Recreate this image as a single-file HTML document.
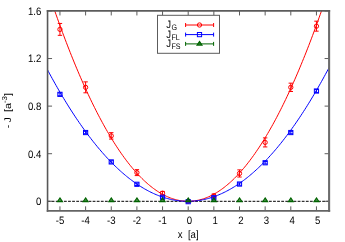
<!DOCTYPE html><html><head><meta charset="utf-8"><style>html,body{margin:0;padding:0;background:#fff}svg{display:block}text{font-family:"Liberation Sans",sans-serif;fill:#000;text-rendering:geometricPrecision}.tx{filter:grayscale(1)}</style></head><body>
<svg width="345" height="242" viewBox="0 0 345 242">
<rect width="345" height="242" fill="#fff"/>
<path d="M47.55 201.3H329.1" stroke="#000" stroke-width="1" stroke-dasharray="2.8 1.3" fill="none"/>
<path d="M59.95 210.85v-4.5M59.95 10.95v4.5M85.60 210.85v-4.5M85.60 10.95v4.5M111.25 210.85v-4.5M111.25 10.95v4.5M136.90 210.85v-4.5M136.90 10.95v4.5M162.55 210.85v-4.5M162.55 10.95v4.5M188.20 210.85v-4.5M188.20 10.95v4.5M213.85 210.85v-4.5M213.85 10.95v4.5M239.50 210.85v-4.5M239.50 10.95v4.5M265.15 210.85v-4.5M265.15 10.95v4.5M290.80 210.85v-4.5M290.80 10.95v4.5M316.45 210.85v-4.5M316.45 10.95v4.5M47.55 201.30h4.5M329.1 201.30h-4.5M47.55 153.71h4.5M329.1 153.71h-4.5M47.55 106.12h4.5M329.1 106.12h-4.5M47.55 58.54h4.5M329.1 58.54h-4.5M47.55 10.95h4.5M329.1 10.95h-4.5" stroke="#5c5c5c" stroke-width="1" fill="none"/>
<clipPath id="c"><rect x="47.55" y="10.95" width="281.55" height="199.9"/></clipPath>
<polyline clip-path="url(#c)" points="47.12,-11.52 48.41,-7.66 49.69,-3.84 50.97,-0.06 52.25,3.69 53.54,7.40 54.82,11.08 56.10,14.72 57.38,18.33 58.67,21.90 59.95,25.44 61.23,28.94 62.51,32.41 63.80,35.84 65.08,39.23 66.36,42.59 67.64,45.92 68.93,49.21 70.21,52.47 71.49,55.69 72.77,58.87 74.06,62.02 75.34,65.13 76.62,68.21 77.91,71.26 79.19,74.27 80.47,77.24 81.75,80.18 83.03,83.08 84.32,85.95 85.60,88.78 86.88,91.58 88.16,94.34 89.45,97.07 90.73,99.76 92.01,102.42 93.29,105.04 94.58,107.62 95.86,110.18 97.14,112.69 98.42,115.17 99.71,117.62 100.99,120.03 102.27,122.40 103.55,124.74 104.84,127.05 106.12,129.32 107.40,131.55 108.68,133.75 109.97,135.91 111.25,138.04 112.53,140.13 113.81,142.19 115.10,144.21 116.38,146.20 117.66,148.15 118.94,150.07 120.23,151.95 121.51,153.80 122.79,155.61 124.07,157.39 125.36,159.13 126.64,160.83 127.92,162.50 129.20,164.14 130.49,165.74 131.77,167.31 133.05,168.83 134.33,170.33 135.62,171.79 136.90,173.21 138.18,174.60 139.47,175.96 140.75,177.27 142.03,178.56 143.31,179.80 144.59,181.02 145.88,182.20 147.16,183.34 148.44,184.44 149.72,185.52 151.01,186.55 152.29,187.55 153.57,188.52 154.85,189.45 156.14,190.35 157.42,191.21 158.70,192.03 159.99,192.82 161.27,193.58 162.55,194.30 163.83,194.98 165.11,195.63 166.40,196.25 167.68,196.83 168.96,197.37 170.24,197.88 171.53,198.35 172.81,198.79 174.09,199.19 175.38,199.56 176.66,199.89 177.94,200.19 179.22,200.45 180.50,200.68 181.79,200.87 183.07,201.03 184.35,201.15 185.63,201.23 186.92,201.28 188.20,201.30 189.48,201.28 190.76,201.23 192.05,201.14 193.33,201.01 194.61,200.85 195.89,200.65 197.18,200.42 198.46,200.16 199.74,199.85 201.02,199.52 202.31,199.15 203.59,198.74 204.87,198.30 206.16,197.82 207.44,197.31 208.72,196.76 210.00,196.18 211.28,195.56 212.57,194.90 213.85,194.21 215.13,193.49 216.41,192.73 217.70,191.94 218.98,191.11 220.26,190.24 221.54,189.34 222.83,188.41 224.11,187.44 225.39,186.43 226.67,185.39 227.96,184.31 229.24,183.20 230.52,182.06 231.81,180.87 233.09,179.66 234.37,178.40 235.65,177.12 236.94,175.79 238.22,174.44 239.50,173.04 240.78,171.62 242.06,170.15 243.35,168.65 244.63,167.12 245.91,165.55 247.19,163.95 248.48,162.31 249.76,160.63 251.04,158.92 252.32,157.18 253.61,155.40 254.89,153.58 256.17,151.73 257.45,149.84 258.74,147.92 260.02,145.96 261.30,143.97 262.58,141.95 263.87,139.88 265.15,137.79 266.43,135.65 267.71,133.49 269.00,131.28 270.28,129.04 271.56,126.77 272.85,124.46 274.13,122.12 275.41,119.74 276.69,117.33 277.97,114.88 279.26,112.39 280.54,109.87 281.82,107.32 283.10,104.73 284.39,102.10 285.67,99.44 286.95,96.74 288.24,94.01 289.52,91.25 290.80,88.44 292.08,85.61 293.37,82.73 294.65,79.83 295.93,76.88 297.21,73.91 298.50,70.89 299.78,67.85 301.06,64.76 302.34,61.64 303.62,58.49 304.91,55.30 306.19,52.08 307.47,48.82 308.75,45.52 310.04,42.19 311.32,38.83 312.60,35.43 313.88,31.99 315.17,28.52 316.45,25.01 317.73,21.47 319.01,17.90 320.30,14.29 321.58,10.64 322.86,6.96 324.14,3.24 325.43,-0.51 326.71,-4.30 327.99,-8.12 329.27,-11.98" stroke="#ff0000" stroke-width="1.0" fill="none"/>
<polyline clip-path="url(#c)" points="47.12,69.11 48.41,71.51 49.69,73.89 50.97,76.25 52.25,78.58 53.54,80.90 54.82,83.19 56.10,85.46 57.38,87.70 58.67,89.93 59.95,92.13 61.23,94.31 62.51,96.47 63.80,98.61 65.08,100.72 66.36,102.82 67.64,104.89 68.93,106.94 70.21,108.97 71.49,110.97 72.77,112.95 74.06,114.91 75.34,116.85 76.62,118.77 77.91,120.67 79.19,122.54 80.47,124.39 81.75,126.22 83.03,128.03 84.32,129.81 85.60,131.57 86.88,133.31 88.16,135.03 89.45,136.73 90.73,138.40 92.01,140.06 93.29,141.69 94.58,143.30 95.86,144.88 97.14,146.45 98.42,147.99 99.71,149.51 100.99,151.01 102.27,152.49 103.55,153.94 104.84,155.38 106.12,156.79 107.40,158.18 108.68,159.54 109.97,160.89 111.25,162.21 112.53,163.51 113.81,164.79 115.10,166.05 116.38,167.28 117.66,168.49 118.94,169.68 120.23,170.85 121.51,172.00 122.79,173.12 124.07,174.23 125.36,175.31 126.64,176.37 127.92,177.40 129.20,178.42 130.49,179.41 131.77,180.38 133.05,181.33 134.33,182.26 135.62,183.16 136.90,184.04 138.18,184.90 139.47,185.74 140.75,186.56 142.03,187.35 143.31,188.13 144.59,188.88 145.88,189.60 147.16,190.31 148.44,191.00 149.72,191.66 151.01,192.30 152.29,192.92 153.57,193.51 154.85,194.09 156.14,194.64 157.42,195.17 158.70,195.68 159.99,196.17 161.27,196.63 162.55,197.07 163.83,197.49 165.11,197.89 166.40,198.27 167.68,198.62 168.96,198.95 170.24,199.26 171.53,199.55 172.81,199.82 174.09,200.06 175.38,200.29 176.66,200.49 177.94,200.66 179.22,200.82 180.50,200.95 181.79,201.07 183.07,201.16 184.35,201.23 185.63,201.27 186.92,201.30 188.20,201.30 189.48,201.28 190.76,201.24 192.05,201.17 193.33,201.09 194.61,200.98 195.89,200.85 197.18,200.70 198.46,200.52 199.74,200.33 201.02,200.11 202.31,199.87 203.59,199.61 204.87,199.32 206.16,199.02 207.44,198.69 208.72,198.34 210.00,197.97 211.28,197.57 212.57,197.16 213.85,196.72 215.13,196.26 216.41,195.78 217.70,195.27 218.98,194.75 220.26,194.20 221.54,193.63 222.83,193.04 224.11,192.42 225.39,191.79 226.67,191.13 227.96,190.45 229.24,189.75 230.52,189.02 231.81,188.28 233.09,187.51 234.37,186.72 235.65,185.91 236.94,185.07 238.22,184.22 239.50,183.34 240.78,182.44 242.06,181.52 243.35,180.57 244.63,179.61 245.91,178.62 247.19,177.61 248.48,176.58 249.76,175.52 251.04,174.44 252.32,173.35 253.61,172.23 254.89,171.08 256.17,169.92 257.45,168.73 258.74,167.53 260.02,166.29 261.30,165.04 262.58,163.77 263.87,162.47 265.15,161.15 266.43,159.81 267.71,158.45 269.00,157.07 270.28,155.66 271.56,154.23 272.85,152.78 274.13,151.31 275.41,149.81 276.69,148.30 277.97,146.76 279.26,145.20 280.54,143.62 281.82,142.01 283.10,140.39 284.39,138.74 285.67,137.07 286.95,135.37 288.24,133.66 289.52,131.92 290.80,130.16 292.08,128.38 293.37,126.58 294.65,124.76 295.93,122.91 297.21,121.04 298.50,119.15 299.78,117.24 301.06,115.30 302.34,113.35 303.62,111.37 304.91,109.37 306.19,107.35 307.47,105.30 308.75,103.23 310.04,101.15 311.32,99.03 312.60,96.90 313.88,94.75 315.17,92.57 316.45,90.37 317.73,88.15 319.01,85.91 320.30,83.64 321.58,81.36 322.86,79.05 324.14,76.72 325.43,74.36 326.71,71.99 327.99,69.59 329.27,67.17" stroke="#0000ff" stroke-width="1.0" fill="none"/>
<path d="M59.95 23.44V35.34M57.75 23.44h4.4M57.75 35.34h4.4M85.60 81.86V92.80M83.40 81.86h4.4M83.40 92.80h4.4M111.25 132.66V139.08M109.05 132.66h4.4M109.05 139.08h4.4M136.90 169.65V175.60M134.70 169.65h4.4M134.70 175.60h4.4M162.55 191.43V194.99M160.35 191.43h4.4M160.35 194.99h4.4M188.20 200.71V201.89M186.00 200.71h4.4M186.00 201.89h4.4M213.85 194.04V197.61M211.65 194.04h4.4M211.65 197.61h4.4M239.50 169.89V177.03M237.30 169.89h4.4M237.30 177.03h4.4M265.15 137.89V146.93M262.95 137.89h4.4M262.95 146.93h4.4M290.80 83.16V91.49M288.60 83.16h4.4M288.60 91.49h4.4M316.45 21.18V31.17M314.25 21.18h4.4M314.25 31.17h4.4" stroke="#ff0000" stroke-width="1" fill="none"/>
<circle cx="59.95" cy="29.39" r="2.15" stroke="#ff0000" stroke-width="1" fill="none"/>
<circle cx="85.60" cy="87.33" r="2.15" stroke="#ff0000" stroke-width="1" fill="none"/>
<circle cx="111.25" cy="135.87" r="2.15" stroke="#ff0000" stroke-width="1" fill="none"/>
<circle cx="136.90" cy="172.63" r="2.15" stroke="#ff0000" stroke-width="1" fill="none"/>
<circle cx="162.55" cy="193.21" r="2.15" stroke="#ff0000" stroke-width="1" fill="none"/>
<circle cx="188.20" cy="201.30" r="2.15" stroke="#ff0000" stroke-width="1" fill="none"/>
<circle cx="213.85" cy="195.83" r="2.15" stroke="#ff0000" stroke-width="1" fill="none"/>
<circle cx="239.50" cy="173.46" r="2.15" stroke="#ff0000" stroke-width="1" fill="none"/>
<circle cx="265.15" cy="142.41" r="2.15" stroke="#ff0000" stroke-width="1" fill="none"/>
<circle cx="290.80" cy="87.33" r="2.15" stroke="#ff0000" stroke-width="1" fill="none"/>
<circle cx="316.45" cy="26.18" r="2.15" stroke="#ff0000" stroke-width="1" fill="none"/>
<path d="M59.95 92.92V95.77M57.75 92.92h4.4M57.75 95.77h4.4M85.60 131.35V133.73M83.40 131.35h4.4M83.40 133.73h4.4M111.25 160.73V163.11M109.05 160.73h4.4M109.05 163.11h4.4M136.90 183.10V185.48M134.70 183.10h4.4M134.70 185.48h4.4M162.55 196.30V198.21M160.35 196.30h4.4M160.35 198.21h4.4M188.20 201.06V202.25M186.00 201.06h4.4M186.00 202.25h4.4M213.85 196.78V198.68M211.65 196.78h4.4M211.65 198.68h4.4M239.50 182.86V185.24M237.30 182.86h4.4M237.30 185.24h4.4M265.15 161.56V163.94M262.95 161.56h4.4M262.95 163.94h4.4M290.80 131.35V133.73M288.60 131.35h4.4M288.60 133.73h4.4M316.45 89.59V92.44M314.25 89.59h4.4M314.25 92.44h4.4" stroke="#0000ff" stroke-width="1" fill="none"/>
<rect x="57.85" y="92.25" width="4.2" height="4.2" stroke="#0000ff" stroke-width="1" fill="none"/>
<rect x="83.50" y="130.44" width="4.2" height="4.2" stroke="#0000ff" stroke-width="1" fill="none"/>
<rect x="109.15" y="159.82" width="4.2" height="4.2" stroke="#0000ff" stroke-width="1" fill="none"/>
<rect x="134.80" y="182.19" width="4.2" height="4.2" stroke="#0000ff" stroke-width="1" fill="none"/>
<rect x="160.45" y="195.16" width="4.2" height="4.2" stroke="#0000ff" stroke-width="1" fill="none"/>
<rect x="186.10" y="199.56" width="4.2" height="4.2" stroke="#0000ff" stroke-width="1" fill="none"/>
<rect x="211.75" y="195.63" width="4.2" height="4.2" stroke="#0000ff" stroke-width="1" fill="none"/>
<rect x="237.40" y="181.95" width="4.2" height="4.2" stroke="#0000ff" stroke-width="1" fill="none"/>
<rect x="263.05" y="160.65" width="4.2" height="4.2" stroke="#0000ff" stroke-width="1" fill="none"/>
<rect x="288.70" y="130.44" width="4.2" height="4.2" stroke="#0000ff" stroke-width="1" fill="none"/>
<rect x="314.35" y="88.92" width="4.2" height="4.2" stroke="#0000ff" stroke-width="1" fill="none"/>
<path d="M59.95 197.90L62.45 201.60H57.45Z" stroke="#006400" stroke-width="1.1" fill="#006400" fill-opacity="0.7" stroke-linejoin="miter"/>
<path d="M85.60 197.90L88.10 201.60H83.10Z" stroke="#006400" stroke-width="1.1" fill="#006400" fill-opacity="0.7" stroke-linejoin="miter"/>
<path d="M111.25 197.90L113.75 201.60H108.75Z" stroke="#006400" stroke-width="1.1" fill="#006400" fill-opacity="0.7" stroke-linejoin="miter"/>
<path d="M136.90 197.90L139.40 201.60H134.40Z" stroke="#006400" stroke-width="1.1" fill="#006400" fill-opacity="0.7" stroke-linejoin="miter"/>
<path d="M162.55 197.90L165.05 201.60H160.05Z" stroke="#006400" stroke-width="1.1" fill="#006400" fill-opacity="0.7" stroke-linejoin="miter"/>
<path d="M188.20 197.90L190.70 201.60H185.70Z" stroke="#006400" stroke-width="1.1" fill="#006400" fill-opacity="0.7" stroke-linejoin="miter"/>
<path d="M213.85 197.90L216.35 201.60H211.35Z" stroke="#006400" stroke-width="1.1" fill="#006400" fill-opacity="0.7" stroke-linejoin="miter"/>
<path d="M239.50 197.90L242.00 201.60H237.00Z" stroke="#006400" stroke-width="1.1" fill="#006400" fill-opacity="0.7" stroke-linejoin="miter"/>
<path d="M265.15 197.90L267.65 201.60H262.65Z" stroke="#006400" stroke-width="1.1" fill="#006400" fill-opacity="0.7" stroke-linejoin="miter"/>
<path d="M290.80 197.90L293.30 201.60H288.30Z" stroke="#006400" stroke-width="1.1" fill="#006400" fill-opacity="0.7" stroke-linejoin="miter"/>
<path d="M316.45 197.90L318.95 201.60H313.95Z" stroke="#006400" stroke-width="1.1" fill="#006400" fill-opacity="0.7" stroke-linejoin="miter"/>
<path d="M47.55 10.1V211.79999999999998" stroke="#585858" stroke-width="1.6" fill="none"/>
<path d="M329.1 10.1V211.79999999999998" stroke="#6c6c6c" stroke-width="2.1" fill="none"/>
<path d="M46.75 10.95H330.15000000000003" stroke="#5c5c5c" stroke-width="1.7" fill="none"/>
<path d="M46.75 210.85H330.15000000000003" stroke="#646464" stroke-width="1.9" fill="none"/>
<rect x="157.5" y="15.3" width="62" height="38" stroke="#5c5c5c" stroke-width="1" fill="#fff"/>
<path d="M185.6 25H213.6M185.6 23v4M213.6 23v4" stroke="#ff0000" stroke-width="1" fill="none"/>
<circle cx="199.5" cy="25" r="2.15" stroke="#ff0000" stroke-width="1" fill="none"/>
<path d="M185.6 34.6H213.6M185.6 32.6v4M213.6 32.6v4" stroke="#0000ff" stroke-width="1" fill="none"/>
<rect x="197.4" y="32.5" width="4.2" height="4.2" stroke="#0000ff" stroke-width="1" fill="none"/>
<path d="M185.6 43.9H213.6M185.6 41.9v4M213.6 41.9v4" stroke="#006400" stroke-width="1" fill="none"/>
<path d="M199.50 41.40L202.00 45.10H197.00Z" stroke="#006400" stroke-width="1.1" fill="#006400" fill-opacity="0.7" stroke-linejoin="miter"/>
<g class="tx">
<text transform="translate(166.20,28.10) scale(0.89,1)" font-size="10.8" text-anchor="start" xml:space="preserve">J<tspan font-size="8.0" dy="2.0" dx="0.5">G</tspan></text>
<text transform="translate(166.20,37.70) scale(0.89,1)" font-size="10.8" text-anchor="start" xml:space="preserve">J<tspan font-size="8.0" dy="2.0" dx="0.5">FL</tspan></text>
<text transform="translate(166.20,47.00) scale(0.89,1)" font-size="10.8" text-anchor="start" xml:space="preserve">J<tspan font-size="8.0" dy="2.0" dx="0.5">FS</tspan></text>
<text transform="translate(59.95,224.35) scale(0.89,1)" font-size="10.8" text-anchor="middle" xml:space="preserve">-5</text>
<text transform="translate(85.60,224.35) scale(0.89,1)" font-size="10.8" text-anchor="middle" xml:space="preserve">-4</text>
<text transform="translate(111.25,224.35) scale(0.89,1)" font-size="10.8" text-anchor="middle" xml:space="preserve">-3</text>
<text transform="translate(136.90,224.35) scale(0.89,1)" font-size="10.8" text-anchor="middle" xml:space="preserve">-2</text>
<text transform="translate(162.55,224.35) scale(0.89,1)" font-size="10.8" text-anchor="middle" xml:space="preserve">-1</text>
<text transform="translate(189.50,224.35) scale(0.89,1)" font-size="10.8" text-anchor="middle" xml:space="preserve">0</text>
<text transform="translate(215.15,224.35) scale(0.89,1)" font-size="10.8" text-anchor="middle" xml:space="preserve">1</text>
<text transform="translate(240.80,224.35) scale(0.89,1)" font-size="10.8" text-anchor="middle" xml:space="preserve">2</text>
<text transform="translate(266.45,224.35) scale(0.89,1)" font-size="10.8" text-anchor="middle" xml:space="preserve">3</text>
<text transform="translate(292.10,224.35) scale(0.89,1)" font-size="10.8" text-anchor="middle" xml:space="preserve">4</text>
<text transform="translate(317.75,224.35) scale(0.89,1)" font-size="10.8" text-anchor="middle" xml:space="preserve">5</text>
<text transform="translate(41.30,205.10) scale(0.89,1)" font-size="10.8" text-anchor="end" xml:space="preserve">0</text>
<text transform="translate(41.30,157.51) scale(0.89,1)" font-size="10.8" text-anchor="end" xml:space="preserve">0.4</text>
<text transform="translate(41.30,109.92) scale(0.89,1)" font-size="10.8" text-anchor="end" xml:space="preserve">0.8</text>
<text transform="translate(41.30,62.34) scale(0.89,1)" font-size="10.8" text-anchor="end" xml:space="preserve">1.2</text>
<text transform="translate(41.30,14.75) scale(0.89,1)" font-size="10.8" text-anchor="end" xml:space="preserve">1.6</text>
<text transform="translate(188.20,238.10) scale(0.89,1)" font-size="10.8" text-anchor="middle" xml:space="preserve">x  [a]</text>
<text transform="translate(11.30,128.30) scale(0.89,1) rotate(-90)" font-size="10.8" text-anchor="start" xml:space="preserve">-<tspan dx="2.2">J</tspan><tspan dx="5">[a</tspan><tspan font-size="8.0" dy="-4.3">-3</tspan><tspan dy="4.3">]</tspan></text>
</g>
</svg></body></html>
